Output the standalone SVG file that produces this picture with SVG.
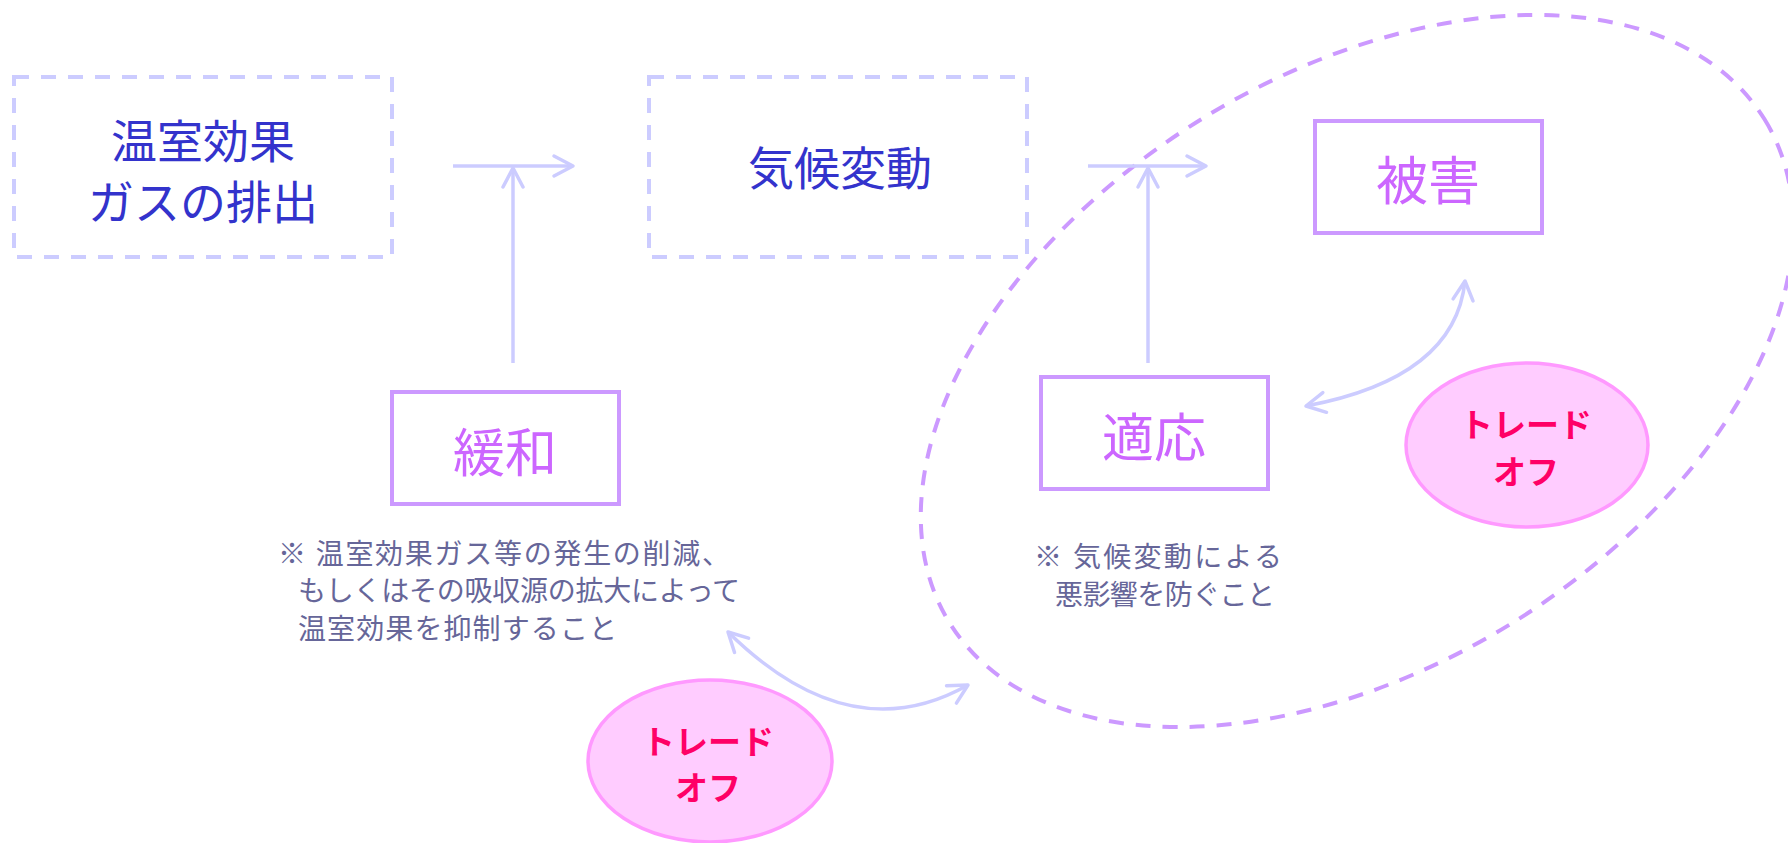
<svg xmlns="http://www.w3.org/2000/svg" width="1788" height="843" viewBox="0 0 1788 843">
<style>
.dbox{fill:none;stroke:#ccccff;stroke-width:4;stroke-dasharray:15 12}
.sbox{fill:#ffffff;stroke:#cc99ff;stroke-width:4}
.t1{font-family:"Noto Sans CJK JP","Noto Sans CJK SC",sans-serif;font-size:46px;fill:#3333cc;text-anchor:middle}
.t2{font-family:"Noto Sans CJK JP","Noto Sans CJK SC",sans-serif;font-size:52px;fill:#cc66ff;text-anchor:middle}
.note{font-family:"Noto Sans CJK JP","Noto Sans CJK SC",sans-serif;font-size:28px;fill:#666699}
.to{fill:#ffccff;stroke:#ff99ff;stroke-width:3.5}
.tot{font-family:"Noto Sans CJK JP","Noto Sans CJK SC",sans-serif;font-size:33px;font-weight:bold;fill:#ff0066;text-anchor:middle}
.conn{fill:none;stroke:#ccccff;stroke-width:3.5}
.big{fill:none;stroke:#cc99ff;stroke-width:4;stroke-dasharray:15 12}
</style>
<defs>
<marker id="ah" markerUnits="userSpaceOnUse" markerWidth="30" markerHeight="30" viewBox="-25 -15 30 30" refX="0" refY="0" orient="auto-start-reverse">
<path d="M-19,-10 L0,0 L-19,10" fill="none" stroke="#ccccff" stroke-width="3.5" stroke-linecap="round" stroke-linejoin="round"/>
</marker>
</defs>
<rect width="1788" height="843" fill="#ffffff"/>
<g id="adaptation-scope">
<ellipse class="big" cx="1357" cy="371" rx="479" ry="296" transform="rotate(-31.7 1357 371)"/>
</g>
<g id="connectors">
<line class="conn" x1="453" y1="166" x2="573" y2="166" marker-end="url(#ah)"/>
<line class="conn" x1="513" y1="363" x2="513" y2="168" marker-end="url(#ah)"/>
<line class="conn" x1="1088" y1="166" x2="1206" y2="166" marker-end="url(#ah)"/>
<line class="conn" x1="1148" y1="363" x2="1148" y2="168" marker-end="url(#ah)"/>
<path class="conn" d="M1465,281 Q1455,378 1306,406" marker-start="url(#ah)" marker-end="url(#ah)"/>
<path class="conn" d="M728,632 Q850,752 968,685" marker-start="url(#ah)" marker-end="url(#ah)"/>
</g>
<g id="ghg">
<rect class="dbox" x="14" y="77" width="378" height="180"/>
<text class="t1" x="203" y="158">温室効果</text>
<text class="t1" x="203" y="219">ガスの排出</text>
</g>
<g id="climate-change">
<rect class="dbox" x="649" y="77" width="378" height="180"/>
<text class="t1" x="840" y="185">気候変動</text>
</g>
<g id="damage">
<rect class="sbox" x="1315" y="121" width="227" height="112"/>
<text class="t2" x="1428" y="200">被害</text>
</g>
<g id="mitigation">
<rect class="sbox" x="392" y="392" width="227" height="112"/>
<text class="t2" x="505" y="472">緩和</text>
<text class="note" x="278" y="564" textLength="452" lengthAdjust="spacing">※ 温室効果ガス等の発生の削減、</text>
<text class="note" x="298" y="601" textLength="442" lengthAdjust="spacing">もしくはその吸収源の拡大によって</text>
<text class="note" x="298" y="639" textLength="319" lengthAdjust="spacing">温室効果を抑制すること</text>
</g>
<g id="adaptation">
<rect class="sbox" x="1041" y="377" width="227" height="112"/>
<text class="t2" x="1154" y="457">適応</text>
<text class="note" x="1034" y="567" textLength="248" lengthAdjust="spacing">※ 気候変動による</text>
<text class="note" x="1055" y="605" textLength="220" lengthAdjust="spacing">悪影響を防ぐこと</text>
</g>
<g id="tradeoff-right">
<ellipse class="to" cx="1527" cy="445" rx="121" ry="82"/>
<text class="tot" x="1526" y="437">トレード</text>
<text class="tot" x="1526" y="484">オフ</text>
</g>
<g id="tradeoff-left">
<ellipse class="to" cx="710" cy="761" rx="122" ry="81"/>
<text class="tot" x="708" y="754">トレード</text>
<text class="tot" x="708" y="800">オフ</text>
</g>
</svg>
